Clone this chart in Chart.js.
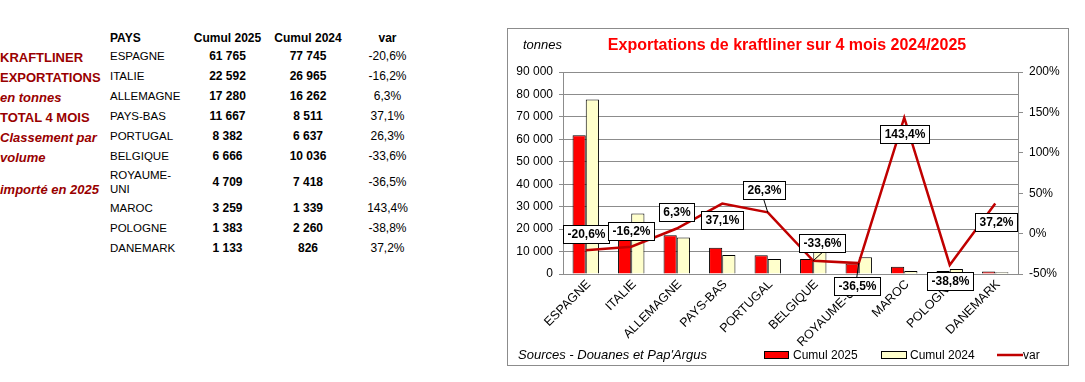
<!DOCTYPE html>
<html>
<head>
<meta charset="utf-8">
<script src="https://cdn.jsdelivr.net/npm/chart.js@4.4.1/dist/chart.umd.min.js"></script>
<style>
  body { margin:0; background:#fff; font-family: Arial, "Liberation Sans", sans-serif; }
  #page { position:relative; width:1085px; height:382px; overflow:hidden; }
  .side { position:absolute; left:0; font-weight:bold; font-size:13px; color:#990000; line-height:16px; white-space:nowrap; }
  .side.i { font-style:italic; }
  #tbl { position:absolute; left:110px; top:30px; border-collapse:collapse; color:#000; }
  #tbl td, #tbl th { padding:0; height:20px; line-height:14px; vertical-align:middle; }
  #tbl th { height:16px; font-size:12px; font-weight:bold; text-align:center; }
  #tbl th.pays, #tbl td.pays { text-align:left; }
  #tbl td.pays { font-size:11.5px; }
  #tbl td.num { font-size:12px; font-weight:bold; text-align:center; }
  #tbl td.var { font-size:12px; text-align:center; }
  #frame { position:absolute; left:507px; top:28px; width:560px; height:336px; border:1px solid #8c8c8c; }
</style>
</head>
<body>
<div id="page">
  <div class="side" style="top:50px">KRAFTLINER</div>
  <div class="side" style="top:70px">EXPORTATIONS</div>
  <div class="side i" style="top:90px">en tonnes</div>
  <div class="side" style="top:110px">TOTAL 4 MOIS</div>
  <div class="side i" style="top:130px">Classement par</div>
  <div class="side i" style="top:150px">volume</div>
  <div class="side i" style="top:182px">importé en 2025</div>

  <table id="tbl">
    <colgroup><col style="width:75px"><col style="width:85px"><col style="width:76px"><col style="width:83px"></colgroup>
    <thead><tr><th class="pays">PAYS</th><th>Cumul 2025</th><th>Cumul 2024</th><th>var</th></tr></thead>
    <tbody id="rows"></tbody>
  </table>

  <div id="frame"><canvas id="chart" width="560" height="336"></canvas></div>
</div>

<script>
// data
const countries = ['ESPAGNE', 'ITALIE', 'ALLEMAGNE', 'PAYS-BAS', 'PORTUGAL', 'BELGIQUE', 'ROYAUME-UNI', 'MAROC', 'POLOGNE', 'DANEMARK'];
const cumul2025 = [61765, 22592, 17280, 11667, 8382, 6666, 4709, 3259, 1383, 1133];
const cumul2024 = [77745, 26965, 16262, 8511, 6637, 10036, 7418, 1339, 2260, 826];
const varPct = [-20.6, -16.2, 6.3, 37.1, 26.3, -33.6, -36.5, 143.4, -38.8, 37.2];

const chartTitle = 'Exportations de kraftliner sur 4 mois 2024/2025';
const unitLabel = 'tonnes';
const sourceLabel = "Sources - Douanes et Pap'Argus";

// label placement around each point of the var line (style only)
const labelOffsets = [[0, -16], [0, -16], [0, -17], [0, 16], [-4, -22], [9, -18], [-2, 23], [0, 16], [0, 16], [1, 18]];
const labelLeader = [false, false, false, false, true, true, true, false, false, false];

const FONT = 'Arial, "Liberation Sans", sans-serif';
const GRID = '#8c8c8c';

function fmtNum(n) {
  return String(n).replace(/\B(?=(\d{3})+(?!\d))/g, ' ');
}
function fmtPct(v) {
  return v.toFixed(1).replace('.', ',') + '%';
}

// left table
const tbody = document.getElementById('rows');
countries.forEach((c, i) => {
  const tr = document.createElement('tr');
  tr.innerHTML = '<td class="pays" style="width:70px">' + c + '</td>' +
    '<td class="num">' + fmtNum(cumul2025[i]) + '</td>' +
    '<td class="num">' + fmtNum(cumul2024[i]) + '</td>' +
    '<td class="var">' + fmtPct(varPct[i]) + '</td>';
  if (c.indexOf('-') > 0 && c.length > 10) tr.style.height = '32px';
  tbody.appendChild(tr);
});

Chart.defaults.font.family = FONT;
Chart.defaults.font.size = 12;
Chart.defaults.color = '#000';

const decor = {
  id: 'decor',
  afterDatasetsDraw(chart) {
    const ctx = chart.ctx;
    const meta = chart.getDatasetMeta(0);
    ctx.save();
    ctx.font = 'bold 12px ' + FONT;
    ctx.textAlign = 'center';
    ctx.textBaseline = 'middle';
    meta.data.forEach((pt, i) => {
      const txt = fmtPct(varPct[i]);
      const w = Math.round(ctx.measureText(txt).width + 8);
      const h = 18;
      const cx = pt.x + labelOffsets[i][0];
      const cy = pt.y + labelOffsets[i][1];
      const x0 = Math.round(cx - w / 2) + 0.5;
      const y0 = Math.round(cy - h / 2) + 0.5;
      if (labelLeader[i]) {
        ctx.strokeStyle = '#000';
        ctx.lineWidth = 1;
        ctx.beginPath();
        ctx.moveTo(pt.x, pt.y);
        ctx.lineTo(cx, labelOffsets[i][1] < 0 ? y0 + h : y0);
        ctx.stroke();
      }
      ctx.fillStyle = '#fff';
      ctx.fillRect(x0, y0, w, h);
      ctx.strokeStyle = '#000';
      ctx.lineWidth = 1;
      ctx.strokeRect(x0, y0, w, h);
      ctx.fillStyle = '#000';
      ctx.fillText(txt, x0 + w / 2, y0 + h / 2 + 0.5);
    });
    ctx.restore();
  },
  afterDraw(chart) {
    const ctx = chart.ctx;
    const ds = chart.data.datasets;
    ctx.save();
    ctx.textBaseline = 'middle';
    // title
    ctx.font = 'bold 16px ' + FONT;
    ctx.fillStyle = '#ff0000';
    ctx.textAlign = 'center';
    ctx.fillText(chartTitle, 279, 17);
    // unit
    ctx.font = 'italic 13px ' + FONT;
    ctx.fillStyle = '#000';
    ctx.textAlign = 'left';
    ctx.fillText(unitLabel, 15, 16);
    // sources
    ctx.fillText(sourceLabel, 10, 326);
    // legend
    ctx.font = '12px ' + FONT;
    const items = [
      { ds: ds[1], x: 256, w: 24, tx: 285 },
      { ds: ds[2], x: 373, w: 25, tx: 402 }
    ];
    items.forEach(it => {
      ctx.fillStyle = it.ds.backgroundColor;
      ctx.fillRect(it.x + 0.5, 322.5, it.w, 7);
      ctx.strokeStyle = '#000';
      ctx.lineWidth = 1;
      ctx.strokeRect(it.x + 0.5, 322.5, it.w, 7);
      ctx.fillStyle = '#000';
      ctx.fillText(it.ds.label, it.tx, 326.5);
    });
    ctx.strokeStyle = ds[0].borderColor;
    ctx.lineWidth = 2.5;
    ctx.beginPath();
    ctx.moveTo(489, 326);
    ctx.lineTo(515, 326);
    ctx.stroke();
    ctx.fillStyle = '#000';
    ctx.fillText(ds[0].label, 515, 326.5);
    ctx.restore();
  }
};

new Chart(document.getElementById('chart'), {
  type: 'bar',
  data: {
    labels: countries,
    datasets: [
      {
        type: 'line',
        label: 'var',
        data: varPct,
        yAxisID: 'y1',
        borderColor: '#c00000',
        borderWidth: 2.5,
        pointRadius: 0,
        tension: 0,
        order: 0
      },
      {
        label: 'Cumul 2025',
        data: cumul2025,
        yAxisID: 'y',
        backgroundColor: '#ff0000',
        borderColor: '#000',
        borderWidth: 1,
        categoryPercentage: 0.58,
        barPercentage: 1,
        order: 1
      },
      {
        label: 'Cumul 2024',
        data: cumul2024,
        yAxisID: 'y',
        backgroundColor: '#ffffcc',
        borderColor: '#000',
        borderWidth: 1,
        categoryPercentage: 0.58,
        barPercentage: 1,
        order: 1
      }
    ]
  },
  options: {
    responsive: false,
    animation: false,
    layout: { padding: { top: 43, left: 0, right: 0, bottom: 0 } },
    plugins: {
      legend: { display: false },
      title: { display: false },
      tooltip: { enabled: false }
    },
    scales: {
      x: {
        grid: { display: false, drawTicks: false },
        border: { color: GRID },
        ticks: { minRotation: 45, maxRotation: 45, autoSkip: false, padding: 3, labelOffset: 3, font: { size: 12.5 } },
        afterFit(s) { s.height = 91; }
      },
      y: {
        position: 'left',
        min: 0,
        max: 90000,
        ticks: { stepSize: 10000, padding: 6, callback: v => fmtNum(v) },
        grid: { color: GRID, tickLength: 4 },
        border: { color: GRID },
        afterFit(s) { s.width = 55; }
      },
      y1: {
        position: 'right',
        min: -50,
        max: 200,
        ticks: { stepSize: 50, padding: 6, callback: v => v + '%' },
        grid: { drawOnChartArea: false, color: GRID, tickLength: 5 },
        border: { color: GRID },
        afterFit(s) { s.width = 50; }
      }
    }
  },
  plugins: [decor]
});
</script>
</body>
</html>
